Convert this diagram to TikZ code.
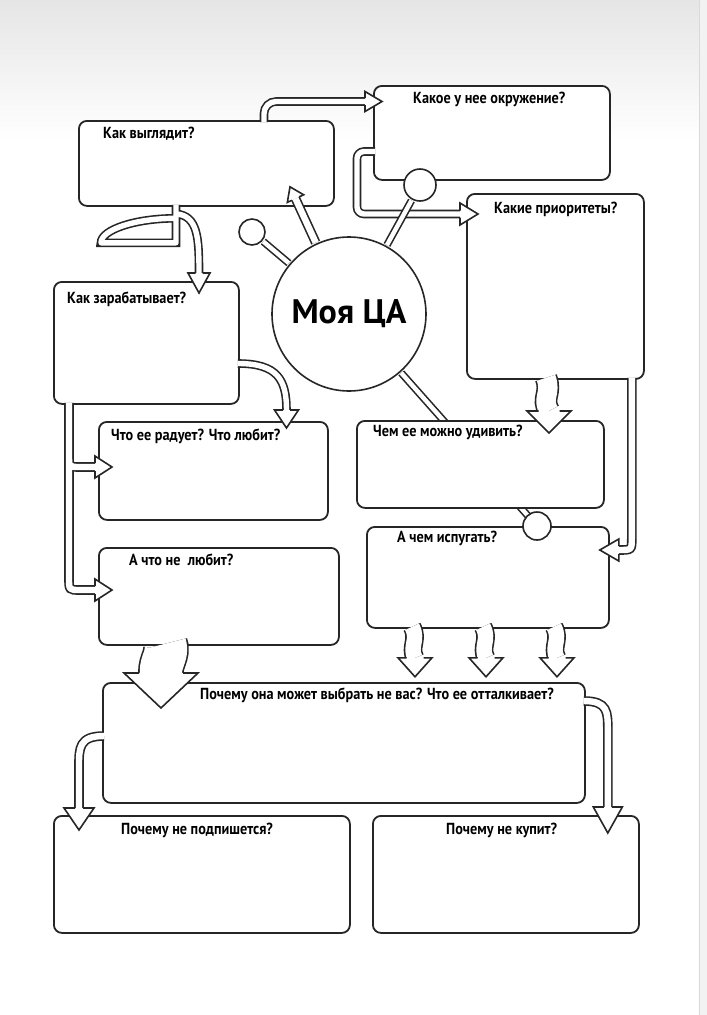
\documentclass[tikz,border=0pt]{standalone}
\usepackage{fontspec}
\setmainfont{PT Sans}
\newfontfamily\askfont[FakeStretch=0.89]{PT Sans}
\usetikzlibrary{calc}

% open arrow head: tip, angle, tube width, half width, length
\newcommand{\tubehead}[5]{%
  \begin{scope}[shift={#1}, rotate=#2]
    \filldraw[fill=white, draw=black!85, line width=1.6pt] (-#5,#3/2) -- (-#5,#4) -- (0,0) -- (-#5,-#4) -- (-#5,-#3/2);
  \end{scope}}

\begin{document}
\begin{tikzpicture}[x=1pt, y=-1pt,
  box/.style={draw=black!85, line width=1.8pt, rounded corners=8pt, fill=white, inner sep=0pt, anchor=north west},
  ask/.style={font={\askfont\bfseries\fontsize{16pt}{19pt}\selectfont}, anchor=base west, inner sep=0pt},
  tube/.style={draw=white, line width=#1-1.6pt, line join=round, preaction={draw=black!85, line width=#1+1.6pt}},
  tube/.default=8pt,
  dot/.style={circle, draw=black!85, line width=1.6pt, fill=white, inner sep=0pt, minimum size=#1}]

\useasboundingbox (0,0) rectangle (707,1015);
\fill[white] (0,0) rectangle (707,1015);
\shade[top color=black!10, bottom color=white] (0,0) rectangle (707,140);
\fill[black!5] (699,0) rectangle (707,1015);
\draw[black!15, line width=1pt] (699,0) -- (699,1015);

% centre
\node[circle, draw=black!85, line width=1.6pt, fill=white, minimum size=154pt, inner sep=0pt,
  font={\bfseries\fontsize{34pt}{40pt}\selectfont}] (ca) at (349,314) {Моя ЦА};
\coordinate (dotbc) at ($(ca)+(188,212)$);
\draw[tube=6pt, shorten <=1pt] (ca) -- (dotbc);

% boxes
\node[box, minimum width=255pt, minimum height=85pt] (look) at (78,120) {};
\node[box, minimum width=236pt, minimum height=94pt] (env) at (373,85) {};
\node[box, minimum width=177pt, minimum height=185pt] (prio) at (466,193) {};
\node[box, minimum width=185pt, minimum height=122pt] (earn) at (53,281) {};
\node[box, minimum width=229pt, minimum height=98pt] (joy) at (98,421) {};
\node[box, minimum width=247pt, minimum height=87pt] (wow) at (356,420) {};
\node[box, minimum width=242pt, minimum height=101pt] (fear) at (366,526) {};
\node[box, minimum width=240pt, minimum height=97pt] (dislike) at (98,547) {};
\node[box, minimum width=482pt, minimum height=120pt] (why) at (102,682) {};
\node[box, minimum width=296pt, minimum height=117pt] (nosub) at (53,815) {};
\node[box, minimum width=266pt, minimum height=117pt] (nobuy) at (372,815) {};

\node[ask] (lookq) at ($(look.north west)+(25,18)$) {Как выглядит?};
\node[ask] (envq) at ($(env.north west)+(40,18)$) {Какое у нее окружение?};
\node[ask] (prioq) at ($(prio.north west)+(28,20)$) {Какие приоритеты?};
\node[ask] (earnq) at ($(earn.north west)+(14,22)$) {Как зарабатывает?};
\node[ask] (joyq) at ($(joy.north west)+(13,19)$) {Что ее радует? Что любит?};
\node[ask] (dislikeq) at ($(dislike.north west)+(31,18)$) {А что не\ \ любит?};
\node[ask] (wowq) at ($(wow.north west)+(17,16)$) {Чем ее можно удивить?};
\node[ask] (fearq) at ($(fear.north west)+(31,16)$) {А чем испугать?};
\node[ask] (whyq) at ($(why.north west)+(98,17)$) {Почему она может выбрать не вас? Что ее отталкивает?};
\node[ask] (nosubq) at ($(nosub.north west)+(68,19)$) {Почему не подпишется?};
\node[ask] (nobuyq) at ($(nobuy.north west)+(74,19)$) {Почему не купит?};

% look -> env
\coordinate (t1) at ($(env.north west)+(9,16.5)$);
\draw[tube=7pt, rounded corners=12pt] ($(look.north west)+(186,2)$) |- ($(t1)+(-17,0)$);
\tubehead{(t1)}{0}{7}{10}{17}

% look -> earn
\coordinate (s2) at ($(look.south west)+(98,-2)$);
\coordinate (t2) at ($(earn.north west)+(146,12)$);
\draw[tube=7pt] (s2) -- ++(0,38) -- ++(-75,0) .. controls +(0,-13) and +(-41,0) .. ++(75,-24.5)
  ($(s2)+(0,9)$) .. controls +(22,2) and +(0,-35) .. ($(t2)+(0,-20)$);
\tubehead{(t2)}{-90}{7}{11}{20}

% ca -> look
\coordinate (t3) at ($(look.south west)+(212,-20)$);
\draw[tube=8pt, shorten <=1pt] (ca.115) -- ($(t3)+(5.5,11.8)$);
\tubehead{(t3)}{115}{8}{9}{13}

% env -> prio
\coordinate (t4) at ($(prio.north west)+(12,21)$);
\draw[tube=7pt, rounded corners=7pt] ($(env.north west)+(2,66.5)$) -- ++(-18,0) |- ($(t4)+(-18,0)$);
\tubehead{(t4)}{0}{7}{11}{18}

% earn -> joy
\coordinate (t5) at ($(joy.north west)+(188.5,7)$);
\draw[tube=7pt] ($(earn.north east)+(-2,82.5)$) .. controls +(40,0) and +(0,-30) .. ($(t5)+(0,-18)$);
\tubehead{(t5)}{-90}{7}{12}{18}

% earn -> joy, dislike
\coordinate (s6) at ($(earn.south west)+(16,-2)$);
\coordinate (t6a) at ($(joy.north west)+(14,46)$);
\coordinate (t6b) at ($(dislike.north west)+(14,43)$);
\draw[tube=8pt] (s6) -- ($(s6|-t6b)+(0,-12)$) .. controls +(0,12) .. ($(t6b)+(-32,0)$) -- ($(t6b)+(-17,0)$)
  ($(s6|-t6a)+(0,-12)$) .. controls +(0,12) .. ($(t6a)+(-32,0)$) -- ($(t6a)+(-17,0)$);
\tubehead{(t6a)}{0}{8}{11}{17}
\tubehead{(t6b)}{0}{8}{11}{17}

% prio -> wow, fear
\coordinate (t7) at ($(wow.north west)+(193,13)$);
\draw[tube=21pt] ($(prio.south west)+(80,-2)$) .. controls +(6,16) and +(-8,-13) .. ($(t7)+(0,-22)$);
\tubehead{(t7)}{-90}{21}{22}{22}
\coordinate (s8) at ($(prio.south east)+(-13,-2)$);
\coordinate (t8) at ($(fear.north east)+(-10,24)$);
\draw[tube=8pt] (s8) -- ($(s8|-t8)+(0,-12)$) .. controls +(0,12) .. ($(t8)+(19,0)$);
\tubehead{(t8)}{180}{8}{11}{19}

% fear -> why
\draw[tube=17pt] ($(fear.south west)+(46,-2)$) .. controls +(7,13) and +(-6,-11) .. ++(3,31);
\tubehead{($(fear.south west)+(49,48)$)}{-90}{17}{17}{19}
\draw[tube=17pt] ($(fear.south west)+(117,-2)$) .. controls +(7,13) and +(-6,-11) .. ++(3,31);
\tubehead{($(fear.south west)+(120,48)$)}{-90}{17}{17}{19}
\draw[tube=17pt] ($(fear.south west)+(188,-2)$) .. controls +(7,13) and +(-6,-11) .. ++(3,31);
\tubehead{($(fear.south west)+(191,48)$)}{-90}{17}{17}{19}

% dislike -> why
\coordinate (t10) at ($(why.north west)+(59,26)$);
\draw[tube=44pt] ($(dislike.south west)+(67,-2)$) .. controls +(4,10) and +(-1,-11) .. ($(t10)+(0,-35)$);
\tubehead{(t10)}{-90}{44}{37}{35}

% why -> nosub, nobuy
\coordinate (t11) at ($(nosub.north west)+(26,15)$);
\draw[tube=8pt] ($(why.north west)+(2,54)$) .. controls +(-25,0) and +(0,-18) .. ($(t11)+(0,-64)$) -- ($(t11)+(0,-22)$);
\tubehead{(t11)}{-90}{8}{15}{22}
\coordinate (t12) at ($(nobuy.north east)+(-32,18)$);
\draw[tube=8pt] ($(why.north east)+(-2,19)$) .. controls +(24,0) and +(0,-18) .. ($(t12)+(0,-103)$) -- ($(t12)+(0,-26)$);
\tubehead{(t12)}{-90}{8}{14.5}{26}

% lollipops
\node[dot=26pt] (dotl) at ($(ca)+(-97,-82)$) {};
\node[dot=32pt] (dotr) at ($(ca)+(71,-129)$) {};
\node[dot=28pt] (dotb) at (dotbc) {};
\draw[tube=6pt, shorten <=1pt, shorten >=1pt] (ca) -- (dotl);
\draw[tube=6pt, shorten <=1pt, shorten >=1pt] (ca) -- (dotr);
\end{tikzpicture}
\end{document}
